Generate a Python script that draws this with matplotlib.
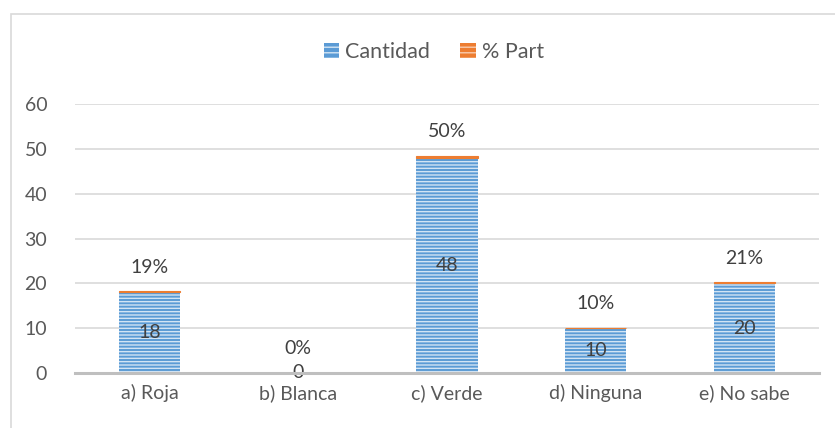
import matplotlib
matplotlib.use("Agg")
import matplotlib.pyplot as plt
from matplotlib.patches import Rectangle, Patch

categories = ["a) Roja", "b) Blanca", "c) Verde", "d) Ninguna", "e) No sabe"]
cantidad = [18, 0, 48, 10, 20]
part = [0.19, 0.00, 0.50, 0.10, 0.21]
part_labels = ["19%", "0%", "50%", "10%", "21%"]
yticks = [0, 10, 20, 30, 40, 50, 60]

plt.rcParams['font.family'] = ['Lato', 'DejaVu Sans']
plt.rcParams['hatch.linewidth'] = 1.0
TXT = '#595959'
BLUE = '#5B9BD5'
ORANGE = '#ED7D31'
FS = 14

fig = plt.figure(figsize=(8.35, 4.28), dpi=100)
ax = fig.add_axes([75/835, 1-373/428, (819-75)/835, (373-104)/428])

x = list(range(len(categories)))
w = 0.41
ax.bar(x, cantidad, width=w, facecolor=BLUE, edgecolor='#D2E4F4', hatch='-----',
       linewidth=0, zorder=3)
ax.bar(x, part, width=w, bottom=cantidad, facecolor=ORANGE, edgecolor=ORANGE,
       linewidth=0.8, zorder=3)

for xi, c, p, pl in zip(x, cantidad, part, part_labels):
    ax.text(xi, c/2, str(c), ha='center', va='center', fontsize=FS, color='#404040', zorder=4)
    ax.annotate(pl, (xi, c+p), xytext=(0, 17.5), textcoords='offset points',
                ha='center', va='center', fontsize=FS, color='#404040')

ax.set_xlim(-0.5, 4.5)
ax.set_ylim(0, 60)
ax.set_yticks(yticks)
ax.set_xticks(x)
ax.set_xticklabels(categories)
ax.tick_params(axis='both', length=0, labelsize=FS, colors=TXT)
ax.tick_params(axis='y', pad=20)
ax.tick_params(axis='x', pad=8)
ax.grid(axis='y', color='#D9D9D9', linewidth=1.2, zorder=0)
ax.set_axisbelow(True)
for s in ['left', 'right', 'top']:
    ax.spines[s].set_visible(False)
ax.spines['bottom'].set_color('#BFBFBF')
ax.spines['bottom'].set_linewidth(2.2)
ax.spines['bottom'].set_zorder(5)

handles = [Patch(facecolor=BLUE, edgecolor='#D2E4F4', hatch='---', linewidth=0),
           Patch(facecolor=ORANGE, edgecolor='#F8CBAD', hatch='---', linewidth=0)]
fig.legend(handles, ["Cantidad", "% Part"], loc='center', bbox_to_anchor=(434/835, 1-52/428),
           ncol=2, frameon=False, fontsize=15.5, labelcolor=TXT, handlelength=0.7,
           handleheight=0.7, handletextpad=0.3, columnspacing=1.4)

fig.patches.append(Rectangle((10.5/835, -0.1), 2, 1.1 - 14.5/428, transform=fig.transFigure,
                             fill=False, edgecolor='#D9D9D9', linewidth=1.2))

fig.savefig("out.png", dpi=100)
